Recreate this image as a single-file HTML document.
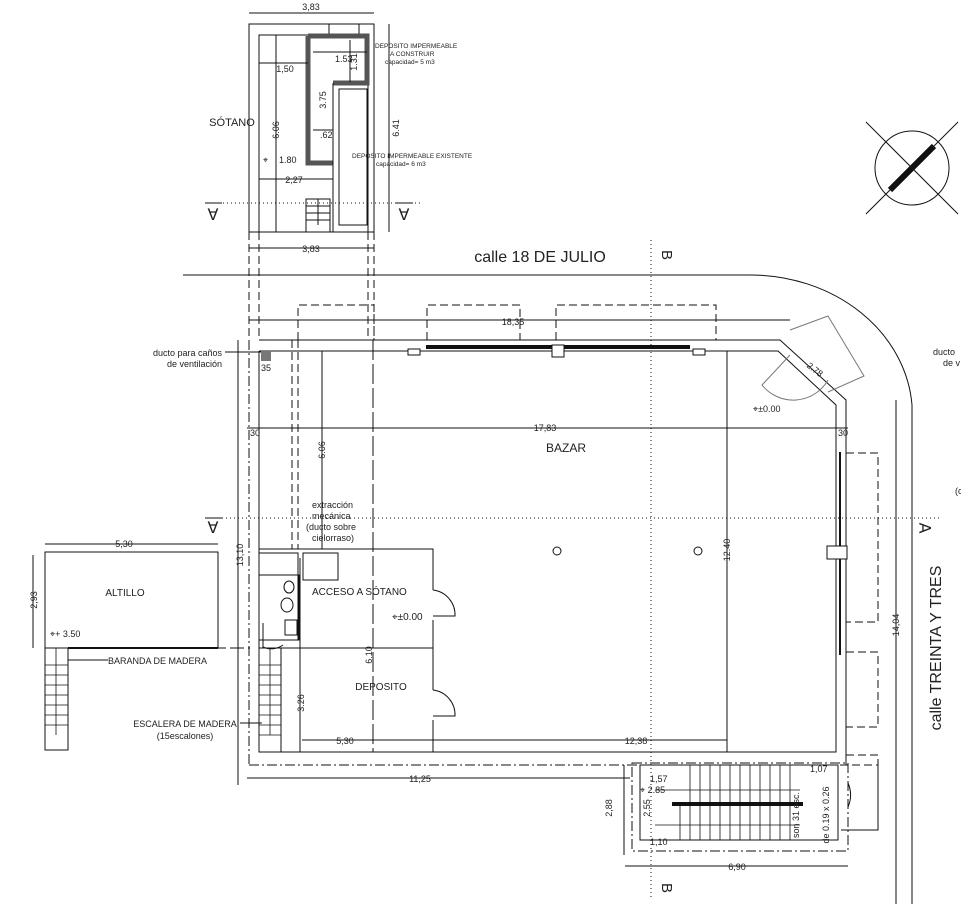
<!DOCTYPE html>
<html><head><meta charset="utf-8"><style>
html,body{margin:0;padding:0;background:#fff}
svg{display:block}
text{font-family:"Liberation Sans",sans-serif;fill:#222}
</style></head><body>
<svg width="961" height="904" viewBox="0 0 961 904" xmlns="http://www.w3.org/2000/svg">
<g fill="none" stroke="#111" stroke-width="1">
<!-- SOTANO -->
<line x1="249" y1="13" x2="374" y2="13"/>
<text x="311" y="10" font-size="9" text-anchor="middle" stroke="none">3,83</text>
<rect x="249" y="24" width="125" height="208"/>
<rect x="259" y="35" width="109" height="197"/>
<rect x="329" y="24" width="30" height="10"/>
<path d="M308 36 H367 V83 H333 V83 M308 36 V163 H333" stroke="#555" stroke-width="5"/>
<line x1="276" y1="35" x2="276" y2="232"/>
<line x1="259" y1="63" x2="308" y2="63"/>
<line x1="313" y1="52" x2="367" y2="52"/>
<line x1="350" y1="40" x2="350" y2="82"/>
<line x1="313" y1="130" x2="333" y2="130"/>
<line x1="333" y1="83" x2="333" y2="232"/>
<rect x="339" y="89" width="28" height="136"/>
<line x1="259" y1="179" x2="333" y2="179"/>
<rect x="306" y="199" width="24" height="33"/>
<line x1="306" y1="206" x2="330" y2="206"/><line x1="306" y1="213" x2="330" y2="213"/><line x1="306" y1="220" x2="330" y2="220"/><line x1="318" y1="199" x2="318" y2="225"/>
<line x1="389" y1="24" x2="389" y2="232"/>
<line x1="249" y1="248" x2="374" y2="248"/>
<line x1="211" y1="203" x2="420" y2="203" stroke-dasharray="1,3"/>
<!-- street -->
<path d="M183 275 H750 A162 140 0 0 1 912 405 V904"/>
<line x1="651" y1="240" x2="651" y2="900" stroke-dasharray="1,3"/>
<!-- compass -->
<circle cx="912" cy="168" r="37"/>
<line x1="866" y1="122" x2="958" y2="214"/>
<line x1="958" y1="122" x2="866" y2="214"/>
<line x1="890" y1="190" x2="934" y2="146" stroke-width="6"/>
<!-- dashed vertical guides from sotano -->
<line x1="249" y1="232" x2="249" y2="340" stroke-dasharray="8,4"/>
<line x1="374" y1="232" x2="374" y2="340" stroke-dasharray="8,4"/>
<line x1="259" y1="232" x2="259" y2="340" stroke-dasharray="8,4"/>
<line x1="368" y1="232" x2="368" y2="340" stroke-dasharray="8,4"/>
<!-- top dashed outlines -->
<path d="M298 340 V305 H374 V340 M427 340 V305 H520 V340 M556 340 V305 H716 V340" stroke-dasharray="8,4"/>
<line x1="249" y1="320" x2="790" y2="320"/>
<!-- main walls -->
<path d="M259 340 H780 L846 400 V765"/>
<path d="M259 351 H778 L836 405 V752 H259 V351"/>
<line x1="249" y1="340" x2="249" y2="765" stroke-dasharray="10,3,2,3"/>
<line x1="249" y1="765" x2="640" y2="765" stroke-dasharray="10,3,2,3"/>
<line x1="426" y1="347" x2="690" y2="347" stroke-width="4"/>
<rect x="552" y="345" width="12" height="12" fill="#fff"/>
<rect x="408" y="349" width="12" height="6" fill="#fff"/>
<rect x="693" y="349" width="12" height="6" fill="#fff"/>
<!-- corner door -->
<path d="M790 330 L828 316 L864 376 L828 392" stroke="#777"/>
<path d="M790 355 L762 385 A40 40 0 0 0 828 380" stroke="#777"/>
<!-- right windows -->
<line x1="840" y1="452" x2="840" y2="655" stroke-width="2"/>
<rect x="827" y="546" width="20" height="13" fill="#fff"/>
<path d="M846 453 H878 V622 H846 M846 652 H878 V727 H846 M846 755 H878 V830 H846" stroke-dasharray="8,4"/>
<line x1="896" y1="400" x2="896" y2="904"/>
<!-- dims -->
<line x1="247" y1="428" x2="848" y2="428"/>
<line x1="727" y1="351" x2="727" y2="752"/>
<line x1="322" y1="351" x2="322" y2="549"/>
<line x1="238" y1="340" x2="238" y2="785"/>
<line x1="247" y1="778" x2="630" y2="778"/>
<line x1="210" y1="518" x2="940" y2="518" stroke-dasharray="1,3"/>
<!-- vertical dashed duct -->
<path d="M292 340 V549 M298 340 V549" stroke-dasharray="8,4"/>
<line x1="373" y1="340" x2="373" y2="752" stroke-dasharray="20,4"/>
<rect x="261" y="351" width="10" height="10" fill="#777" stroke="none"/>
<!-- interior rooms -->
<path d="M259 549 H433 V590 M433 620 V690 M433 720 V752 M300 558 V752 M259 648 H433"/>
<path d="M259 553 H298 V640" />
<rect x="303" y="553" width="35" height="27"/>
<rect x="259" y="575" width="40" height="65"/>
<ellipse cx="289" cy="587" rx="5" ry="6"/><ellipse cx="287" cy="605" rx="6" ry="7"/><rect x="285" y="620" width="12" height="15"/>
<path d="M263 623 V647 A20 20 0 0 0 283 645"/>
<path d="M433 590 A25 25 0 0 1 455 616 H433"/>
<path d="M433 690 A25 25 0 0 1 455 716 H433"/>
<line x1="302" y1="740" x2="433" y2="740"/>
<line x1="433" y1="740" x2="727" y2="740"/>
<rect x="259" y="648" width="22" height="104"/>
<g stroke-width="0.8"><line x1="259" y1="665" x2="281" y2="665"/><line x1="259" y1="675" x2="281" y2="675"/><line x1="259" y1="685" x2="281" y2="685"/><line x1="259" y1="695" x2="281" y2="695"/><line x1="259" y1="705" x2="281" y2="705"/><line x1="259" y1="715" x2="281" y2="715"/><line x1="259" y1="725" x2="281" y2="725"/><line x1="259" y1="735" x2="281" y2="735"/><line x1="270" y1="648" x2="270" y2="735"/></g>
<circle cx="557" cy="551" r="4"/><circle cx="698" cy="551" r="4"/>
<!-- altillo -->
<rect x="45" y="552" width="173" height="96"/>
<line x1="33" y1="555" x2="33" y2="648"/>
<line x1="45" y1="544" x2="218" y2="544"/>
<line x1="68" y1="648" x2="250" y2="648" stroke-dasharray="14,4"/>
<line x1="68" y1="648" x2="218" y2="648" stroke-width="2"/>
<rect x="45" y="648" width="23" height="102"/>
<g stroke-width="0.8"><line x1="45" y1="665" x2="68" y2="665"/><line x1="45" y1="675" x2="68" y2="675"/><line x1="45" y1="685" x2="68" y2="685"/><line x1="45" y1="695" x2="68" y2="695"/><line x1="45" y1="705" x2="68" y2="705"/><line x1="45" y1="715" x2="68" y2="715"/><line x1="45" y1="725" x2="68" y2="725"/><line x1="56" y1="648" x2="56" y2="735"/></g>
<line x1="68" y1="660" x2="108" y2="660"/>
<line x1="240" y1="723" x2="262" y2="723"/>
<line x1="225" y1="352" x2="261" y2="352"/>
<!-- bottom stair block -->
<rect x="632" y="763" width="216" height="88" stroke-dasharray="10,3,2,3"/>
<rect x="640" y="765" width="198" height="75"/>
<line x1="672" y1="804" x2="803" y2="804" stroke-width="4"/>
<g stroke-width="0.8">
<line x1="690" y1="765" x2="690" y2="840"/><line x1="700" y1="765" x2="700" y2="840"/><line x1="710" y1="765" x2="710" y2="840"/><line x1="720" y1="765" x2="720" y2="840"/><line x1="730" y1="765" x2="730" y2="840"/><line x1="740" y1="765" x2="740" y2="840"/><line x1="750" y1="765" x2="750" y2="840"/><line x1="760" y1="765" x2="760" y2="840"/><line x1="770" y1="765" x2="770" y2="840"/><line x1="780" y1="765" x2="780" y2="840"/><line x1="790" y1="765" x2="790" y2="840"/><line x1="680" y1="804" x2="680" y2="840"/>
<line x1="655" y1="790" x2="800" y2="790"/><line x1="655" y1="825" x2="800" y2="825"/>
</g>
<path d="M840 765 H878 V830 H840" stroke-dasharray="8,4"/>
<path d="M848 783 A30 30 0 0 1 848 807"/>
<line x1="624" y1="765" x2="624" y2="855"/>
<line x1="625" y1="866" x2="848" y2="866"/>
</g>
<g font-size="9" stroke="none" fill="#222">
<text x="232" y="126" font-size="11" text-anchor="middle">SÓTANO</text>
<text x="285" y="72" text-anchor="middle">1,50</text>
<text x="335" y="62">1.53</text>
<text x="294" y="183" text-anchor="middle">2,27</text>
<text x="279" y="163">1.80</text>
<text x="263" y="163">⌖</text>
<text x="320" y="138">.62</text>
<text x="311" y="252" text-anchor="middle">3,83</text>
<text x="375" y="48" font-size="6.5">DEPOSITO IMPERMEABLE</text>
<text x="390" y="56" font-size="6.5">A CONSTRUIR</text>
<text x="385" y="64" font-size="6.5">capacidad= 5 m3</text>
<text x="352" y="158" font-size="6.5">DEPOSITO IMPERMEABLE EXISTENTE</text>
<text x="376" y="166" font-size="6.5">capacidad= 6 m3</text>
<text x="540" y="262" font-size="16" text-anchor="middle">calle 18 DE JULIO</text>
<text x="513" y="325" text-anchor="middle">18,35</text>
<text x="545" y="431" text-anchor="middle">17,83</text>
<text x="250" y="436">30</text>
<text x="838" y="436">30</text>
<text x="566" y="452" font-size="12" text-anchor="middle">BAZAR</text>
<text x="753" y="412">⌖±0.00</text>
<text x="222" y="356" text-anchor="end">ducto para caños</text>
<text x="222" y="367" text-anchor="end">de ventilación</text>
<text x="261" y="371">35</text>
<text x="933" y="355">ducto</text><text x="943" y="366">de v</text>
<text x="955" y="494">(c</text>
<text x="312" y="508">extracción</text>
<text x="312" y="519">mecánica</text>
<text x="306" y="530">(ducto sobre</text>
<text x="312" y="541">cielorraso)</text>
<text x="124" y="547" text-anchor="middle">5,30</text>
<text x="125" y="596" font-size="10" text-anchor="middle">ALTILLO</text>
<text x="50" y="637">⌖+ 3.50</text>
<text x="108" y="664">BARANDA DE MADERA</text>
<text x="185" y="727" text-anchor="middle">ESCALERA DE MADERA</text>
<text x="185" y="739" text-anchor="middle">(15escalones)</text>
<text x="312" y="595" font-size="10">ACCESO A SÓTANO</text>
<text x="392" y="620" font-size="10">⌖±0.00</text>
<text x="381" y="690" font-size="10" text-anchor="middle">DEPOSITO</text>
<text x="345" y="744" text-anchor="middle">5,30</text>
<text x="636" y="744" text-anchor="middle">12,38</text>
<text x="420" y="782" text-anchor="middle">11,25</text>
<text x="650" y="782">1,57</text>
<text x="640" y="793">⌖ 2.85</text>
<text x="737" y="870" text-anchor="middle">6,90</text>
<text x="810" y="772">1,07</text>
<text x="650" y="845">1,10</text>
</g>
<g font-size="9" stroke="none" fill="#222">
<text transform="translate(279,130) rotate(-90)" text-anchor="middle">6.06</text>
<text transform="translate(326,100) rotate(-90)" text-anchor="middle">3.75</text>
<text transform="translate(357,62) rotate(-90)" text-anchor="middle">1.31</text>
<text transform="translate(399,128) rotate(-90)" text-anchor="middle">6.41</text>
<text transform="translate(325,450) rotate(-90)" text-anchor="middle">6.06</text>
<text transform="translate(243,555) rotate(-90)" text-anchor="middle">13,10</text>
<text transform="translate(37,600) rotate(-90)" text-anchor="middle">2,93</text>
<text transform="translate(372,655) rotate(-90)" text-anchor="middle">6.10</text>
<text transform="translate(304,703) rotate(-90)" text-anchor="middle">3.26</text>
<text transform="translate(730,550) rotate(-90)" text-anchor="middle">12.40</text>
<text transform="translate(899,625) rotate(-90)" text-anchor="middle">14,04</text>
<text transform="translate(612,808) rotate(-90)" text-anchor="middle">2,88</text>
<text transform="translate(650,808) rotate(-90)" text-anchor="middle">2.55</text>
<text transform="translate(813,372) rotate(38)" text-anchor="middle">2.78</text>
<text transform="translate(799,815) rotate(-90)" text-anchor="middle">son 31 esc.</text>
<text transform="translate(829,815) rotate(-90)" text-anchor="middle">de 0.19 x 0.26</text>
<text transform="translate(941,648) rotate(-90)" font-size="16" text-anchor="middle">calle TREINTA Y TRES</text>
<text transform="translate(662,255) rotate(90)" font-size="15" text-anchor="middle">B</text>
<text transform="translate(662,888) rotate(90)" font-size="15" text-anchor="middle">B</text>
</g>
<g font-size="16" stroke="none" fill="#222">
<text x="213" y="220" text-anchor="middle">∀</text>
<text x="404" y="220" text-anchor="middle">∀</text>
<text x="213" y="533" text-anchor="middle">∀</text>
<text transform="translate(931,528) rotate(-90)" text-anchor="middle">∀</text>
</g>
<g stroke="#111">
<line x1="205" y1="203" x2="222" y2="203"/><line x1="396" y1="203" x2="413" y2="203"/><line x1="205" y1="518" x2="222" y2="518"/>
</g>
</svg>
</body></html>
